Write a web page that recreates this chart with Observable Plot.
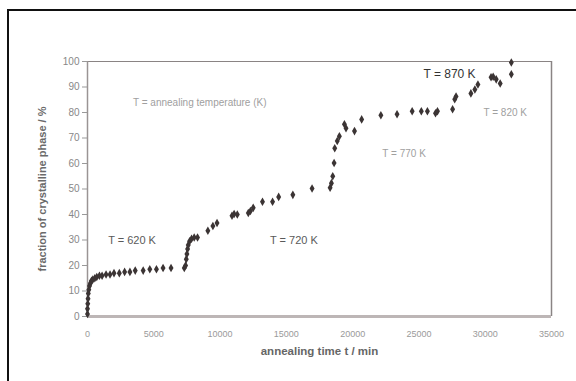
<!DOCTYPE html>
<html>
<head>
<meta charset="utf-8">
<script src="https://cdn.jsdelivr.net/npm/d3@7"></script>
<script src="https://cdn.jsdelivr.net/npm/@observablehq/plot@0.6"></script>
<style>
  html, body { margin: 0; padding: 0; background: #fff; overflow: hidden; }
  #wrap { position: relative; width: 576px; height: 381px; }
  #border { position: absolute; left: 7px; top: 9px; width: 620px; height: 420px;
            border-left: 2px solid #111; border-top: 2px solid #111; pointer-events: none; }
  svg { font-family: "Liberation Sans", Arial, sans-serif; }
</style>
</head>
<body>
<div id="wrap"><div id="border"></div></div>
<script>
// annealing time t (min)
const times = [
  0, 0, 20, 40, 60, 100, 150, 220, 300, 400, 550, 700, 900, 1100, 1400, 1700, 2000, 2400, 2800, 3200, 3600, 4200, 4700, 5200, 5700, 6300, 7300,
  7400, 7450, 7500, 7550, 7600, 7700, 7850, 8050, 8300, 9080, 9460, 9770, 10900, 11060, 11300, 12130, 12290, 12500, 13200, 13960, 14420, 15490, 16940, 18300, 18400,
  18500, 18600, 18650, 18840, 19000, 19380, 19500, 20140, 20680, 22130, 23350, 24490, 25180, 25640, 26250, 26400, 27540,
  27700, 27800, 28920, 29220, 29450, 30440, 30600, 30830, 31130, 31970, 31970
];
// fraction of crystalline phase (%)
const fractions = [
  1, 3, 5, 7, 9, 10.5, 12, 13, 14, 14.5, 15, 15.5, 16, 16, 16.5, 16.5, 17, 17, 17.5, 17.5, 18, 18, 18.5, 18.5, 19, 19, 19,
  20, 22.5, 24.5, 26.5, 28, 29.5, 30.5, 31, 31, 33.6, 35.5, 36.7, 39.5, 40.2, 40, 40.6, 41.4, 42.6, 45, 45, 46.9, 47.7, 50.2, 50.5, 52.3,
  55, 60.2, 66, 68.8, 70.7, 75.4, 73.8, 72.7, 77.3, 78.9, 79.3, 80.5, 80.5, 80.5, 79.7, 80.5, 81.3,
  85.2, 86.3, 87.5, 89, 91, 93.8, 94, 93, 91.4, 95, 99.6
];
const xTicks = [0, 5000, 10000, 15000, 20000, 25000, 30000, 35000];
const yTicks = [0, 10, 20, 30, 40, 50, 60, 70, 80, 90, 100];

// annotations (data coordinates)
const noteText = ["T = annealing temperature (K)", "T = 620 K", "T = 720 K", "T = 770 K", "T = 870 K", "T = 820 K"];
const noteX = [8470, 3360, 15570, 23880, 27310, 31510];
const noteY = [84, 29.7, 29.7, 64, 95, 80];
const noteTone = ["light", "mid", "mid", "light", "dark", "light"];

const xTitle = "annealing time t / min";
const yTitle = "fraction of crystalline phase / %";

const data = times.map((t, i) => ({t, f: fractions[i]}));
const notes = noteText.map((s, i) => ({s, x: noteX[i], y: noteY[i], tone: noteTone[i]}));
const toneFill = {light: "#a0a0a0", mid: "#5a5a5a", dark: "#333"};
const toneSize = {light: 10, mid: 11, dark: 12};

const chart = Plot.plot({
  width: 576,
  height: 381,
  marginLeft: 87,
  marginRight: 25,
  marginTop: 61,
  marginBottom: 65,
  x: {domain: [0, 35000]},
  y: {domain: [0, 100]},
  marks: [
    Plot.ruleY([100], {stroke: "#8a8484", strokeWidth: 1.2}),
    Plot.ruleX([35000], {stroke: "#8a8484", strokeWidth: 1.5}),
    Plot.ruleX([0], {stroke: "#9a9494", strokeWidth: 1.5}),
    Plot.ruleY([0], {stroke: "#bdb6b6", strokeWidth: 3}),
    Plot.axisX({ticks: xTicks, tickSize: 0, tickPadding: 14, tickFormat: d => String(d),
                fontSize: 9, fill: "#9a9a9a", label: null}),
    Plot.axisY({ticks: yTicks, tickSize: 5, tickPadding: 3, fontSize: 10, fill: "#888",
                stroke: "#999", label: null}),
    Plot.text([xTitle], {frameAnchor: "bottom", dy: 38, fontSize: 11.5, fontWeight: "bold", fill: "#666"}),
    Plot.text([yTitle], {frameAnchor: "left", dx: -45, rotate: -90, textAnchor: "middle",
                         fontSize: 11, fontWeight: "bold", fill: "#6a6a6a"}),
    Plot.text(notes, {x: "x", y: "y", text: "s",
                      fontSize: d => toneSize[d.tone],
                      fill: d => toneFill[d.tone]}),
    Plot.dot(data, {x: "t", y: "f", symbol: "diamond", r: 2.6, fill: "#3b3434", stroke: "none"})
  ]
});
document.getElementById("wrap").prepend(chart);
</script>
</body>
</html>
